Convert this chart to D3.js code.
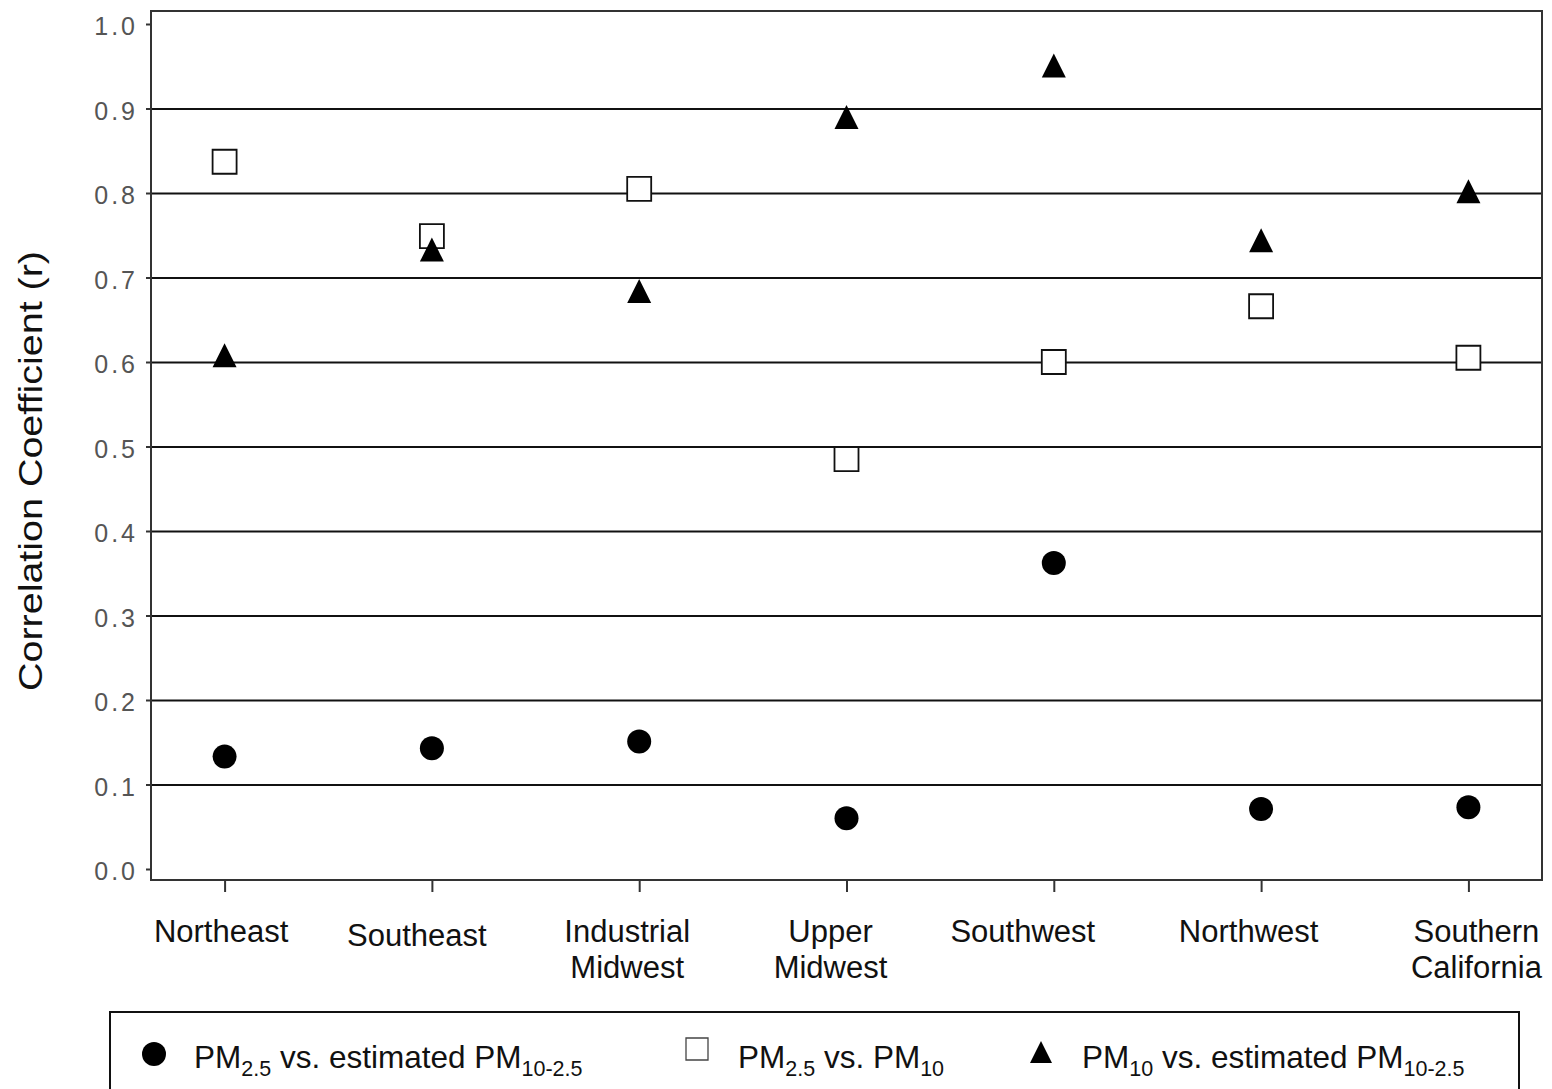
<!DOCTYPE html>
<html><head><meta charset="utf-8">
<script src="https://cdn.jsdelivr.net/npm/d3@7"></script>
<style>body{margin:0;background:#fff}svg{display:block}</style>
</head><body><svg id="c" width="1552" height="1089"></svg>
<script>
// ---- data ----
const regions = ["Northeast","Southeast","Industrial Midwest","Upper Midwest","Southwest","Northwest","Southern California"];
const regionLines = [["Northeast"],["Southeast"],["Industrial","Midwest"],["Upper","Midwest"],["Southwest"],["Northwest"],["Southern","California"]];
const pm25VsCoarse = [0.133,0.143,0.151,0.060,0.362,0.071,0.073];
const pm25VsPm10   = [0.837,0.749,0.805,0.485,0.600,0.666,0.605];
const pm10VsCoarse = [0.608,0.733,0.684,0.890,0.951,0.744,0.802];
const yTicks = [0,0.1,0.2,0.3,0.4,0.5,0.6,0.7,0.8,0.9,1.0];
const gridTicks = [0.1,0.2,0.3,0.4,0.5,0.6,0.7,0.8,0.9];
const yTitle = "Correlation Coefficient (r)";

// ---- layout ----
const L = 151, R = 1542, T = 11, B = 880;
const labelNudge = [[-3.5,0],[-15,4],[-12,0],[-16,0],[-31,0],[-12.5,0],[8,0]];
const FONT = "Liberation Sans, Arial, Helvetica, sans-serif";

const svg = d3.select("#c").style("font-family", FONT);
const x = d3.scalePoint(regions, [L, R]).padding(0.355);
const y = d3.scaleLinear([0, 1], [869, 24]);

// grid
svg.append("g").attr("transform", `translate(${L},0)`)
  .call(d3.axisLeft(y).tickValues(gridTicks).tickSize(-(R - L)).tickFormat(""))
  .call(g => g.select(".domain").remove())
  .call(g => g.selectAll("line").attr("stroke", "#111").attr("stroke-width", 1.8));

// frame
svg.append("rect").attr("x", L).attr("y", T).attr("width", R - L).attr("height", B - T)
  .attr("fill", "none").attr("stroke", "#333").attr("stroke-width", 2);

// y axis
svg.append("g").attr("transform", `translate(${L},0)`)
  .call(d3.axisLeft(y).tickValues(yTicks).tickSize(5).tickPadding(8).tickFormat(d3.format(".1f")))
  .call(g => g.select(".domain").remove())
  .call(g => g.selectAll("line").attr("stroke", "#333").attr("stroke-width", 2))
  .call(g => g.selectAll("text").attr("font-size", 25).attr("font-family", FONT)
      .attr("fill", "#555").attr("letter-spacing", "3px").attr("dy", "0.42em"));

// x axis ticks
svg.append("g").attr("transform", `translate(0,${B})`)
  .call(d3.axisBottom(x).tickSize(12).tickFormat(""))
  .call(g => g.select(".domain").remove())
  .call(g => g.selectAll("line").attr("stroke", "#333").attr("stroke-width", 2));

// x labels
const xl = svg.append("g").attr("font-size", 31).attr("fill", "#111").attr("text-anchor", "middle");
regions.forEach((r, i) => {
  const t = xl.append("text").attr("x", x(r) + labelNudge[i][0]).attr("y", 942 + labelNudge[i][1]);
  regionLines[i].forEach((ln, j) => {
    t.append("tspan").attr("x", x(r) + labelNudge[i][0]).attr("dy", j === 0 ? 0 : 35.5).text(ln);
  });
});

// y title
svg.append("text").attr("transform", "translate(42,471) rotate(-90)")
  .attr("text-anchor", "middle").attr("font-size", 34).attr("fill", "#111")
  .attr("textLength", 440).attr("lengthAdjust", "spacingAndGlyphs").text(yTitle);

// symbols
const triType = { draw(ctx, size) { const s = Math.sqrt(size); ctx.moveTo(0, -s/2); ctx.lineTo(s/2, s/2); ctx.lineTo(-s/2, s/2); ctx.closePath(); } };
const sqType = { draw(ctx, size) { const s = Math.sqrt(size); ctx.rect(-s/2, -s/2, s, s); } };
const circle = d3.symbol(d3.symbolCircle, Math.PI * 12 * 12);
const square = d3.symbol(sqType, 24 * 24);
const tri = d3.symbol(triType, 24 * 24);

const pts = svg.append("g");
pts.selectAll(".sq").data(pm25VsPm10).join("path")
  .attr("transform", (d, i) => `translate(${x(regions[i])},${y(d)})`)
  .attr("d", square).attr("fill", "#fff").attr("stroke", "#111").attr("stroke-width", 1.8);
pts.selectAll(".tr").data(pm10VsCoarse).join("path")
  .attr("transform", (d, i) => `translate(${x(regions[i])},${y(d)})`)
  .attr("d", tri).attr("fill", "#000");
pts.selectAll(".ci").data(pm25VsCoarse).join("path")
  .attr("transform", (d, i) => `translate(${x(regions[i])},${y(d)})`)
  .attr("d", circle).attr("fill", "#000");

// legend
const lg = svg.append("g");
lg.append("rect").attr("x", 110).attr("y", 1012).attr("width", 1409).attr("height", 120)
  .attr("fill", "#fff").attr("stroke", "#111").attr("stroke-width", 2);
lg.append("path").attr("transform", "translate(154,1054)").attr("d", circle).attr("fill", "#000");
lg.append("path").attr("transform", "translate(697,1049)").attr("d", d3.symbol(sqType, 22 * 22)).attr("fill", "#fff").attr("stroke", "#444").attr("stroke-width", 1.3);
lg.append("path").attr("transform", "translate(1041,1052)").attr("d", d3.symbol(triType, 22 * 22)).attr("fill", "#000");

function legendText(xp, parts) {
  const t = lg.append("text").attr("x", xp).attr("y", 1068).attr("font-size", 31.5).attr("fill", "#111");
  let shifted = false;
  parts.forEach(([txt, sub]) => {
    const ts = t.append("tspan").text(txt);
    if (sub && !shifted) { ts.attr("dy", 8).attr("font-size", 21.5); shifted = true; }
    else if (!sub && shifted) { ts.attr("dy", -8); shifted = false; }
  });
}
legendText(194, [["PM"], ["2.5", 1], [" vs. estimated PM"], ["10-2.5", 1]]);
legendText(738, [["PM"], ["2.5", 1], [" vs. PM"], ["10", 1]]);
legendText(1082, [["PM"], ["10", 1], [" vs. estimated PM"], ["10-2.5", 1]]);
</script></body></html>
